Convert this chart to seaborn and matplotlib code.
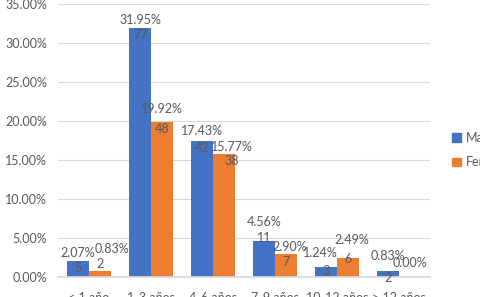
import pandas as pd
import numpy as np
import seaborn as sns
import matplotlib.pyplot as plt
from matplotlib.patches import Patch
from matplotlib.ticker import FuncFormatter

# data
categories = ["< 1 año", "1-3 años", "4-6 años", "7-9 años", "10-12 años", "> 12 años"]
masc_pct = [2.07, 31.95, 17.43, 4.56, 1.24, 0.83]
fem_pct = [0.83, 19.92, 15.77, 2.90, 2.49, 0.00]
masc_n = [5, 77, 42, 11, 3, 2]
fem_n = [2, 48, 38, 7, 6, 0]
series = ["Masculino", "Femenino"]

df = pd.DataFrame({
    "grupo": categories * 2,
    "sexo": [series[0]] * len(categories) + [series[1]] * len(categories),
    "pct": masc_pct + fem_pct,
    "n": masc_n + fem_n,
})

# label nudges (points) so the labels sit roughly where Excel put them
pct_nudge = {(1, 0): (9, 10), (0, 2): (0, 2), (1, 1): (0, 4), (1, 2): (6, 0),
             (0, 3): (0, 9), (1, 3): (3, 0), (0, 4): (-4, 5), (1, 4): (3, 7),
             (0, 5): (0, 5), (1, 5): (0, 5)}
cnt_nudge = {(1, 0): (0, 10), (1, 2): (6, 0), (0, 3): (0, 8), (0, 4): (0, 3),
             (1, 4): (0, 4)}

sns.set_theme(style="white")
plt.rcParams["font.family"] = ["Lato", "DejaVu Sans"]
text_col = "#595959"
colors = ["#4472C4", "#ED7D31"]

fig = plt.figure(figsize=(4.81, 2.97), dpi=100)
ax = fig.add_axes([58 / 481, 20 / 297, (430 - 58) / 481, (277 - 4) / 297])

sns.barplot(data=df, x="grupo", y="pct", hue="sexo", palette=colors,
            width=0.7, legend=False, ax=ax, saturation=1, linewidth=0)

ax.set_ylim(0, 35)
ax.set_yticks(np.arange(0, 36, 5))
ax.yaxis.set_major_formatter(FuncFormatter(lambda v, p: f"{v:.2f}%"))
ax.grid(axis="y", color="#D9D9D9", linewidth=0.8)
ax.set_axisbelow(True)
for s in ["top", "right", "left"]:
    ax.spines[s].set_visible(False)
ax.spines["bottom"].set_color("#D9D9D9")
ax.tick_params(axis="y", length=0, pad=8, labelsize=9, labelcolor=text_col)
ax.tick_params(axis="x", length=0, pad=11, labelsize=9, labelcolor=text_col)
ax.set_xlabel("")
ax.set_ylabel("")

# percent labels above bars, counts inside bar tops
for si, (cont, pcts, counts) in enumerate(zip(ax.containers, [masc_pct, fem_pct], [masc_n, fem_n])):
    for ci, (bar, p, c) in enumerate(zip(cont, pcts, counts)):
        x = bar.get_x() + bar.get_width() / 2
        h = bar.get_height()
        dx, dy = pct_nudge.get((si, ci), (0, 0))
        ax.annotate(f"{p:.2f}%", (x, h), xytext=(dx, 1 + dy), textcoords="offset points",
                    ha="center", va="bottom", fontsize=9, color=text_col)
        if c == 0:
            continue
        dx, dy = cnt_nudge.get((si, ci), (0, 0))
        ax.annotate(str(c), (x, h), xytext=(dx, -1 + dy), textcoords="offset points",
                    ha="center", va="top", fontsize=9, color=text_col)

handles = [Patch(color=c, label=s) for c, s in zip(colors, series)]
fig.legend(handles=handles, loc="center left", bbox_to_anchor=(441 / 481, 1 - 150 / 297),
           frameon=False, fontsize=9, labelcolor=text_col, handlelength=0.7,
           handleheight=0.7, handletextpad=0.4, labelspacing=1.0)

fig.savefig("out.png", dpi=100)
